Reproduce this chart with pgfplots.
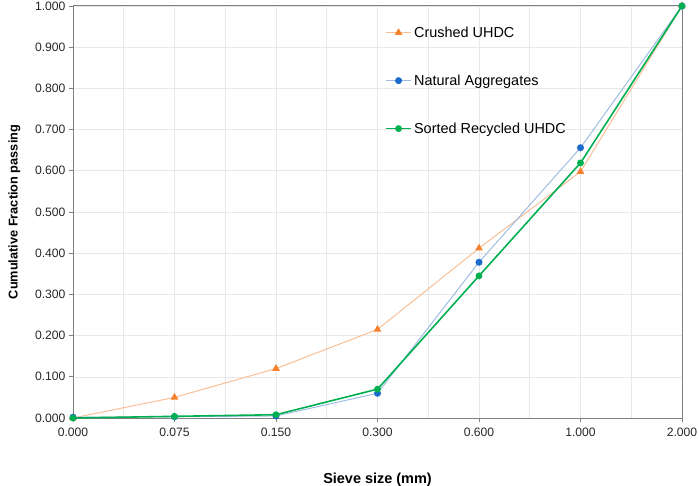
\documentclass[border=0pt]{standalone}
\usepackage{pgfplots}
\pgfplotsset{compat=1.18}
\usepackage{fontspec}
\setmainfont{Liberation Sans}
\definecolor{orM}{RGB}{247,128,45}
\definecolor{orL}{RGB}{248,190,150}
\definecolor{blM}{RGB}{28,108,206}
\definecolor{blL}{RGB}{160,188,228}
\definecolor{grn}{RGB}{0,176,80}
\definecolor{axg}{RGB}{128,128,128}
\definecolor{gridc}{RGB}{232,232,232}
\begin{document}
\begin{tikzpicture}
\begin{axis}[name=ax,
  scale only axis, width=609bp, height=412bp,
  xmin=0, xmax=6, ymin=0, ymax=1,
  xtick={0,1,2,3,4,5,6},
  xticklabels={0.000,0.075,0.150,0.300,0.600,1.000,2.000},
  minor xtick={0.5,1.5,2.5,3.5,4.5,5.5},
  ytick={0,0.1,...,1.0},
  yticklabel style={/pgf/number format/.cd,fixed,fixed zerofill,precision=3},
  /pgf/number format/assume math mode=true,
  tick label style={font=\fontsize{12.2}{14}\selectfont, text=black!85},
  xticklabel style={yshift=-2bp},
  xmajorgrids, xminorgrids, ymajorgrids,
  grid style={gridc, line width=0.6pt},
  minor grid style={gridc, line width=0.6pt},
  axis line style={axg, line width=1pt},
  tick style={axg, line width=0.8pt},
  tick align=outside, major tick length=4bp, minor tick length=0pt,
  xtick pos=bottom, ytick pos=left,
  xlabel={\textbf{Sieve size (mm)}},
  ylabel={\textbf{Cumulative Fraction passing}},
  xlabel style={font=\fontsize{14.5}{16}\selectfont, yshift=-30bp},
  ylabel style={font=\fontsize{12.8}{15}\selectfont, yshift=8bp},
  legend style={at={(0.512,0.955)}, anchor=north west, draw=none, fill=none,
    font=\fontsize{14.5}{16}\selectfont, row sep=32bp, inner sep=0pt},
  legend cell align=left,
  legend image code/.code={
    \draw[#1, mark repeat=2, mark phase=2] plot coordinates {(0cm,0cm) (0.45cm,0cm) (0.9cm,0cm)};},
  clip=false,
]
\addplot[orL, line width=1pt, mark=triangle*, mark size=3.5pt, mark options={orM, fill=orM}]
  coordinates {(0,0) (1,0.050) (2,0.120) (3,0.215) (4,0.412) (5,0.598) (6,1.000)};
\addlegendentry{Crushed UHDC}
\addplot[blL, line width=1pt, mark=*, mark size=3pt, mark options={blM, fill=blM}]
  coordinates {(0,0.002) (1,0.003) (2,0.005) (3,0.060) (4,0.378) (5,0.656) (6,1.000)};
\addlegendentry{Natural Aggregates}
\addplot[grn, line width=1.6pt, mark=*, mark size=2.6pt, mark options={grn, fill=grn}]
  coordinates {(0,0.000) (1,0.004) (2,0.008) (3,0.070) (4,0.345) (5,0.619) (6,1.000)};
\addlegendentry{Sorted Recycled UHDC}
\end{axis}
\pgfresetboundingbox
\path[use as bounding box] ([xshift=-73bp,yshift=-68bp]ax.south west) rectangle ([xshift=17bp,yshift=6bp]ax.north east);
\end{tikzpicture}
\end{document}
